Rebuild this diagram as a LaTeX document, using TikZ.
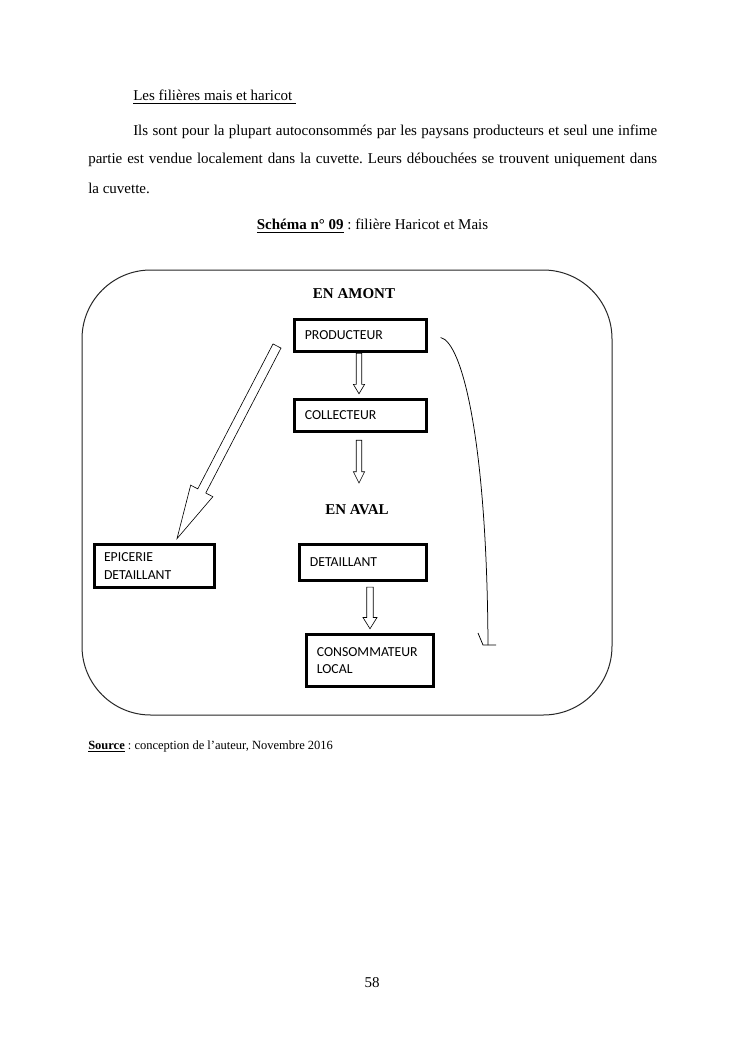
\documentclass[tikz,border=0pt]{standalone}
\usepackage{fontspec}
\setmainfont{Liberation Serif}
\newfontfamily\boxfont{Carlito}
\usetikzlibrary{calc}
\frenchspacing
\tikzset{
  box/.style={draw, line width=2.4pt, font=\boxfont\fontsize{11}{14}\selectfont, align=left, inner xsep=8pt, inner ysep=3pt},
  frame/.style={draw=black!85, line width=0.8pt, rounded corners=55pt},
  txt/.style={inner sep=0pt, font=\rmfamily\fontsize{12}{14}\selectfont},
  hd/.style={inner sep=0pt, font=\rmfamily\bfseries\fontsize{12}{14}\selectfont},
  blockarrow/.style={draw, line width=0.5pt, fill=white, line join=miter},
  thinline/.style={draw, line width=0.6pt}
}
% #1 start, #2 tip, #3 shaft half width, #4 head half width, #5 head length
\newcommand\hollowarrow[5]{%
  \path ($(#2)!#5!(#1)$) coordinate (hbase);
  \draw[blockarrow] ($(#1)!#3!90:(#2)$) -- ($(hbase)!#3!-90:(#1)$) -- ($(hbase)!#4!-90:(#1)$) -- (#2)
     -- ($(hbase)!#4!90:(#1)$) -- ($(hbase)!#3!90:(#1)$) -- ($(#1)!#3!-90:(#2)$) -- cycle;
}
\begin{document}
\begin{tikzpicture}[x=0.8pt, y=-0.8pt]
\useasboundingbox[fill=white] (0,0) rectangle (745,1053);

% text above
\node[txt, anchor=west] (heading) at (133,97) {\underline{Les filières mais et haricot\ }};
\node[txt, anchor=west] (p1) at (133,132) {\makebox[419.2pt][s]{Ils sont pour la plupart autoconsommés par les paysans producteurs et seul une infime}};
\node[txt, anchor=west] (p2) at (88,160) {\makebox[455.2pt][s]{partie est vendue localement dans la cuvette. Leurs débouchées se trouvent uniquement dans}};
\node[txt, anchor=west] (p3) at (88,188) {la cuvette.};
\node[txt] (title) at (372.5,226) {\underline{\textbf{Schéma n° 09}} : filière Haricot et Mais};

% frame
\draw[frame] (82,270) rectangle (612,715);

\node[hd] (amont) at (354,294) {EN AMONT};
\node[hd] (aval) at (357,510) {EN AVAL};

% boxes
\node[box, minimum width=105pt, minimum height=26pt, text width=89pt] (prod) at (360.5,335.5) {PRODUCTEUR};
\node[box, minimum width=105pt, minimum height=26pt, text width=89pt] (coll) at (360.5,415.5) {COLLECTEUR};
\node[box, minimum width=101pt, minimum height=29pt, text width=85pt] (det) at (363,562.5) {DETAILLANT\\[6pt]};
\node[box, minimum width=101pt, minimum height=42pt, text width=85pt] (cons) at (370,660.5) {CONSOMMATEUR\\LOCAL};
\node[box, minimum width=96pt, minimum height=35pt, text width=80pt] (epi) at (154,566) {EPICERIE\\DETAILLANT};

% block arrows
\coordinate (a1s) at ($(prod.south)+(-1.5,0)$);
\coordinate (a1e) at ($(coll.north)+(-1.5,-4)$);
\hollowarrow{a1s}{a1e}{2.2pt}{4.5pt}{7.5pt}
\coordinate (a2s) at ($(coll.south)+(-1.5,7)$);
\coordinate (a2e) at (359,483);
\hollowarrow{a2s}{a2e}{2.2pt}{4.5pt}{9pt}
\coordinate (a3s) at ($(det.south)+(7,5)$);
\coordinate (a3e) at ($(cons.north)+(0,-4)$);
\hollowarrow{a3s}{a3e}{2.6pt}{5.6pt}{9pt}
\coordinate (bigs) at (277,346);
\coordinate (bige) at ($(epi.north)+(23,-4)$);
\hollowarrow{bigs}{bige}{3.6pt}{10pt}{43pt}

% curved connector
\coordinate (cs) at ($(prod.east)+(13,2)$);
\coordinate (ce) at (488,645);
\draw[thinline] (cs) .. controls (462,342) and (487,440) .. (ce);
\draw[thinline] (478,633) -- ($(ce)+(-5,0)$) -- ($(ce)+(8,0)$);

% source
\node[inner sep=0pt, anchor=west, font=\rmfamily\fontsize{10}{12}\selectfont] (src) at (88,746) {\underline{\textbf{Source}} : conception de l’auteur, Novembre 2016};

\node[txt] (page) at (372,983) {58};
\end{tikzpicture}
\end{document}
